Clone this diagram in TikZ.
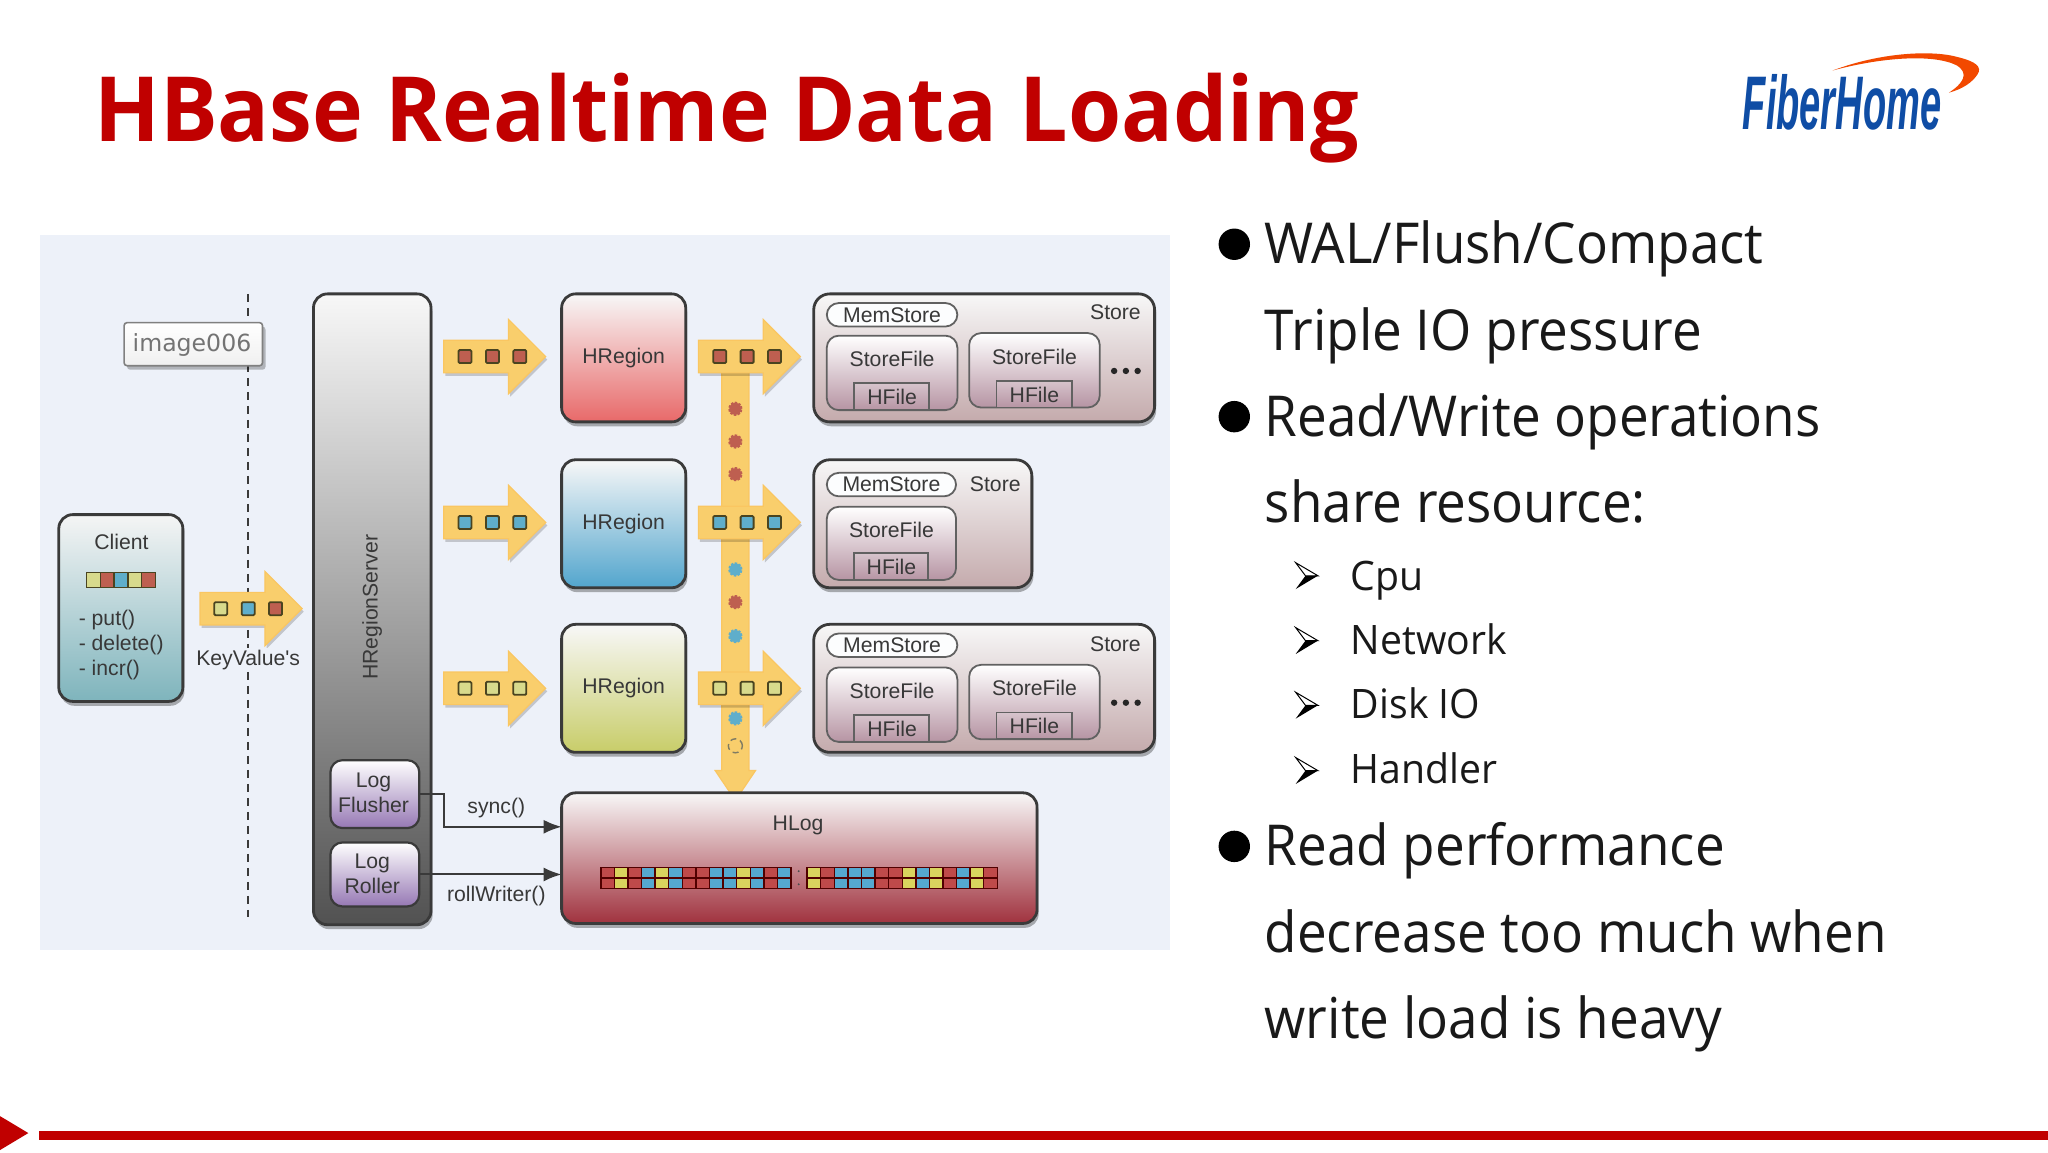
\documentclass[tikz,border=0pt]{standalone}
\usepackage{fontspec}
\usepackage{graphicx}
\setmainfont{Open Sans}
\newfontfamily\dfont{Liberation Sans}
\usetikzlibrary{shapes.arrows,shapes.misc,shadows,arrows.meta,calc}
\definecolor{bgd}{HTML}{EDF1F9}
\definecolor{ttl}{HTML}{C00000}
\definecolor{edge}{HTML}{3A3A3A}
\definecolor{ylw}{HTML}{F9CE6C}
\definecolor{kr}{HTML}{BE5F50}
\definecolor{kb}{HTML}{5FAECB}
\definecolor{ky}{HTML}{D8DA8C}
\definecolor{hr}{HTML}{BF4A4A}
\definecolor{hb}{HTML}{55A8D0}
\definecolor{hy}{HTML}{D9D45E}
\definecolor{sqe}{HTML}{4A4420}
\newcommand{\fsz}[1]{\fontsize{#1}{#1}\selectfont}
\newcommand{\sxb}[1]{\scalebox{.94}[1]{#1}}
\newcommand{\sxs}[1]{\scalebox{.965}[1]{#1}}
\tikzset{
  x=0.65306pt,y=-0.65306pt,
  box/.style={draw=edge,line width=1.4pt,rounded corners=7pt,inner sep=0pt,outer sep=0pt,
    drop shadow={shadow xshift=0.8pt,shadow yshift=-2.2pt,fill=black,opacity=.3}},
  inbox/.style={draw=edge!80,line width=.9pt,rounded corners=6pt,inner sep=0pt,outer sep=0pt},
  lbl/.style={font=\dfont\fsz{10.6},text=black!78,inner sep=0pt,align=center},
  blk/.style={single arrow,fill=ylw,draw=ylw!90!orange,line width=.6pt,inner sep=0pt,outer sep=0pt,
    single arrow head extend=10.4pt,minimum height=51pt,minimum width=36.6pt,
    drop shadow={shadow xshift=.8pt,shadow yshift=-1.5pt,fill=black,opacity=.18}},
  sq/.style={draw=sqe,line width=.9pt,inner sep=0pt,outer sep=0pt,minimum size=6.5pt,rounded corners=.6pt},
  cell/.style={draw=black!55!red!70!black,line width=.7pt,inner sep=0pt,outer sep=0pt,minimum width=6.8pt,minimum height=5.3pt},
  dot/.style={circle,inner sep=0pt,minimum size=6pt,draw=#1,fill=#1,line width=1.1pt,dash pattern=on 1.2pt off .7pt},
  ell/.style={circle,fill=black!85,inner sep=0pt,minimum size=3.2pt},
  big/.style={font=\fsz{28.2},text=black!90,anchor=base west,inner sep=0pt},
  small/.style={font=\fsz{20.3},text=black!90,anchor=base west,inner sep=0pt},
  bull/.style={circle,fill=black,inner sep=0pt,minimum size=15.7pt},
  conn/.style={draw=edge,line width=1pt,-{Latex[length=9pt,width=7pt]}},
}
\newcommand{\blkb}{\rule{0pt}{15.7pt}}
\newcommand{\bx}[7]{\node[#6,minimum width={((#4)-(#2))*0.65306pt},minimum height={((#5)-(#3))*0.65306pt}] (#1) at ({((#2)+(#4))/2},{((#3)+(#5))/2}) {#7};}
\newcommand{\arrb}[2]{%
  \draw[black,line width=.5pt,fill=white] (992,#2-10)--(1009,#2)--(999.5,#2)--cycle;
  \fill[black] (992,#2+10.2)--(1009,#2)--(999.5,#2)--cycle;
}
\newcommand{\sqs}[5]{%
  \node[sq,fill=#5] (#1a) at (#2,#4) {};
  \node[sq,fill=#5] (#1b) at (#3,#4) {};
  \node[sq,fill=#5] (#1c) at ({2*#3-#2},#4) {};
}
\newcommand{\filea}[7]{%
  \bx{#1sf}{#2}{#3}{#4}{#5}{inbox,top color=white,bottom color=#7}{}
  \node[lbl] (#1sft) at ({(#2+#4)/2},#3+18) {StoreFile};
  \bx{#1hf}{#2+21}{#5-20.5}{#4-21.5}{#5}{inbox,rounded corners=0pt,top color=#7!55!white,bottom color=#7}{}
  \node[lbl] (#1hft) at ({(#2+#4)/2},#5-10) {HFile};
}
\newcommand{\mem}[6]{%
  \bx{#1}{#2}{#3}{#4}{#5}{inbox,rounded corners=6pt,fill=white!85!#6}{}
  \node[lbl] (#1t) at ({(#2+#4)/2},{(#3+#5)/2}) {MemStore};
}
\newcommand{\regt}{\dfont\fsz{10.6}\color{black!78}\raisebox{-1pt}{HRegion}}
\begin{document}
\begin{tikzpicture}
\useasboundingbox (0,0) rectangle (1568,882);
\fill[white] (0,0) rectangle (1568,882);
% title and logo
\node[anchor=base west,inner sep=0pt,text=ttl,font=\bfseries\fsz{45}] (title) at (72,108) {\scalebox{.955}[1]{HBase Realtime Data Loading}};
\fill[orange!60!red!95!black] (1403,54) .. controls (1440,40) and (1480,38) .. (1500,44) .. controls (1512,47) and (1518,51) .. (1514,57) .. controls (1510,63) and (1503,68) .. (1492,71) .. controls (1503,64) and (1508,56) .. (1498,50) .. controls (1480,41) and (1440,44) .. (1403,54) -- cycle;
\node[anchor=base west,inner sep=0pt,text={rgb,255:red,15;green,77;blue,165},font=\dfont\bfseries\itshape\fsz{38}] (logo) at (1334,99) {\scalebox{.5}[1]{FiberHome}};
% diagram background
\fill[bgd] (31,180) rectangle (896,727);
% dashed divider
\coordinate (dt) at (190,225);
\coordinate (db) at (190,702);
\draw[edge,line width=1.3pt,dash pattern=on 4pt off 3pt] (dt) -- (db);
\bx{img}{95}{247}{201}{280}{draw=black!50,line width=.8pt,rounded corners=1.5pt,inner sep=0pt,outer sep=0pt,top color=white,bottom color=black!6,drop shadow={shadow xshift=1.5pt,shadow yshift=-2pt,fill=black,opacity=.25}}{}
\node[inner sep=0pt,text=black!55,font=\fontspec{DejaVu Sans}\fsz{11.8}] (imgt) at (147,264) {image006};
% client
\bx{client}{45}{394}{140}{537}{box,top color=white!96!black,bottom color={rgb,255:red,126;green,180;blue,188}}{}
\node[lbl] (clientt) at (93,415) {Client};
\foreach \i/\c in {0/ky,1/kr,2/kb,3/ky,4/kr}{
  \node[draw=sqe,line width=.7pt,fill=\c,inner sep=0pt,minimum width=7pt,minimum height=7.6pt] (cs\i) at (71.5+\i*10.6,444) {};
}
\node[lbl,anchor=base west] (put) at (60,479) {- put()};
\node[lbl,anchor=base west] (del) at (60,498) {- delete()};
\node[lbl,anchor=base west] (inc) at (60,517) {- incr()};
% key values arrow
\node[blk] (ka) at (186,466) {\blkb};
\node[sq,fill=ky] (ka1) at (169,466) {};
\node[sq,fill=kb] (ka2) at (190,466) {};
\node[sq,fill=kr] (ka3) at (211,466) {};
\node[lbl,fill=bgd,inner sep=1pt] (kv) at (190,505) {KeyValue's};
% region server
\bx{hrs}{240}{225}{330}{708}{box,top color=white!97!black,bottom color=black!68}{}
\node[lbl,rotate=90] (hrst) at (285,465) {HRegionServer};
\bx{lf}{253}{582}{321}{634}{inbox,draw=edge,line width=1.1pt,top color=white,bottom color={rgb,255:red,150;green,120;blue,180}}{}
\node[lbl] (lft) at (286,607) {Log\\[1.8pt]Flusher};
\bx{lr}{253}{645}{321}{694}{inbox,draw=edge,line width=1.1pt,top color=white,bottom color={rgb,255:red,150;green,120;blue,180}}{}
\node[lbl] (lrt) at (285,669) {Log\\[1.8pt]Roller};
% left block arrows
\foreach \n/\y/\c in {la/273/kr,lb/400/kb,lc/527/ky}{
  \node[blk] (\n) at (372.5,\y) {\blkb};
  \sqs{\n s}{356}{377}{\y}{\c}
}
% regions
\bx{ra}{430}{225}{525}{323}{box,top color=white!97!black,bottom color={rgb,255:red,232;green,105;blue,105}}{\regt}
\bx{rb}{430}{352}{525}{450}{box,top color=white!97!black,bottom color={rgb,255:red,82;green,165;blue,205}}{\regt}
\bx{rc}{430}{478}{525}{576}{box,top color=white!97!black,bottom color={rgb,255:red,200;green,205;blue,105}}{\regt}
% WAL trunk arrow
\node[single arrow,fill=ylw,draw=ylw!90!orange,line width=.6pt,inner sep=0pt,outer sep=0pt,shape border rotate=270,
  single arrow head extend=3.3pt,single arrow tip angle=68,minimum height=217pt,minimum width=19.6pt] (trunk) at (563,439) {\phantom{\rule{13pt}{13pt}}};
\foreach \n/\y/\c in {ma/273/kr,mb/400/kb,mc/527/ky}{
  \node[blk] (\n) at (567.5,\y) {\blkb};
  \sqs{\n s}{551}{572}{\y}{\c}
}
\foreach \n/\y/\c in {d1/313/kr,d2/338/kr,d3/363/kr,d4/436/kb,d5/461/kr,d6/487/kb,d7/550/kb}{
  \node[dot=\c] (\n) at (563,\y) {};
}
\node[circle,inner sep=0pt,minimum size=7pt,draw=sqe!70,line width=.7pt,densely dashed] (d8) at (563,571) {};
% stores
\bx{sa}{623}{225}{884}{323}{box,rounded corners=8pt,top color=white!97!black,bottom color={rgb,255:red,196;green,170;blue,172}}{}
\bx{sb}{623}{352}{790}{450}{box,rounded corners=8pt,top color=white!97!black,bottom color={rgb,255:red,196;green,170;blue,172}}{}
\bx{sc}{623}{478}{884}{576}{box,rounded corners=8pt,top color=white!97!black,bottom color={rgb,255:red,196;green,170;blue,172}}{}
\definecolor{sfc}{RGB}{182,148,163}
% store A
\mem{sam}{633}{232}{733}{250}{bgd}
\node[lbl] (sal) at (854,239) {Store};
\filea{saa}{633}{257}{733}{314}{}{sfc}
\filea{sab}{742}{255}{842}{312}{}{sfc}
\node[ell] (sad1) at (853,284) {};
\node[ell] (sad2) at (862,284) {};
\node[ell] (sad3) at (871,284) {};
% store B
\mem{sbm}{633}{362}{732}{380}{bgd}
\node[lbl] (sbl) at (762,371) {Store};
\filea{sba}{633}{388}{732}{444}{}{sfc}
% store C
\mem{scm}{633}{485}{733}{503}{bgd}
\node[lbl] (scl) at (854,493) {Store};
\filea{sca}{633}{511}{733}{568}{}{sfc}
\filea{scb}{742}{509}{842}{566}{}{sfc}
\node[ell] (scd1) at (853,538) {};
\node[ell] (scd2) at (862,538) {};
\node[ell] (scd3) at (871,538) {};
% HLog
\bx{hlog}{430}{607}{794}{707}{box,top color=white!97!black,bottom color={rgb,255:red,160;green,50;blue,62}}{}
\node[lbl] (hlogt) at (611,632) {HLog};
\foreach \c [count=\i from 0] in {hr,hy,hr,hb,hy,hb,hr,hr,hb,hb,hy,hb,hr,hb}{
  \node[cell,fill=\c] (hu\i) at (465.2+\i*10.4,668) {};
  \node[cell,fill=\c] (hd\i) at (465.2+\i*10.4,676.3) {};
}
\foreach \c [count=\i from 0] in {hy,hr,hb,hb,hb,hr,hr,hy,hb,hy,hr,hb,hy,hr}{
  \node[cell,fill=\c] (hv\i) at (623.2+\i*10.4,668) {};
  \node[cell,fill=\c] (hw\i) at (623.2+\i*10.4,676.3) {};
}
\fill[black!70] (611.5,667) circle (.8) (611.5,677) circle (.8);
% connectors
\coordinate (sy1) at (340,608);
\coordinate (sy2) at (340,633);
\draw[conn] (lf.east) -- (sy1) -- (sy2) -- (sy2 -| hlog.west);
\draw[conn] (lr.east) -- (lr.east -| hlog.west);
\node[lbl] (sync) at (380,619) {sync()};
\node[lbl] (roll) at (380,686) {rollWriter()};
% text column
\node[bull] (b1) at (945,187) {};
\node[big] (t1) at (968,202) {\sxb{WAL/Flush/Compact}};
\node[big] (t2) at (968,268) {\sxb{Triple IO pressure}};
\node[bull] (b2) at (945,319) {};
\node[big] (t3) at (968,334) {\sxb{Read/Write operations}};
\node[big] (t4) at (968,400) {\sxb{share resource:}};
\arrb{0}{440.8}
\node[small] (s1) at (1034,451.8) {\sxs{Cpu}};
\arrb{0}{490.5}
\node[small] (s2) at (1034,500.8) {\sxs{Network}};
\arrb{0}{540}
\node[small] (s3) at (1034,550) {\sxs{Disk IO}};
\arrb{0}{590}
\node[small] (s4) at (1034,599.6) {\sxs{Handler}};
\node[bull] (b3) at (945,648) {};
\node[big] (t5) at (968,663) {\sxb{Read performance}};
\node[big] (t6) at (968,729) {\sxb{decrease too much when}};
\node[big] (t7) at (968,795) {\sxb{write load is heavy}};
% footer
\fill[ttl] (0,854.5) -- (21.7,867.5) -- (0,880.5) -- cycle;
\fill[ttl] (30,866) rectangle (1568,873);
\end{tikzpicture}
\end{document}
